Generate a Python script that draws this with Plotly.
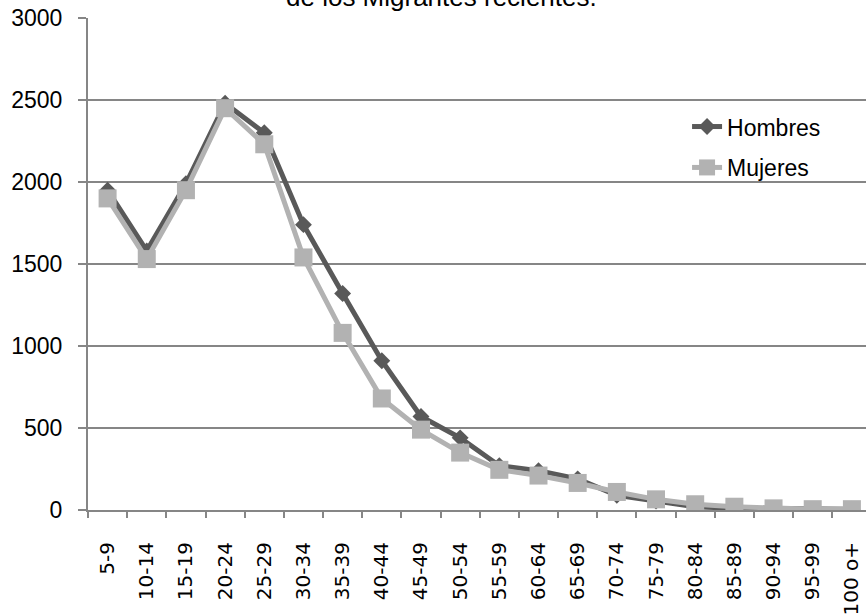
import plotly.graph_objects as go

# Age groups of recent migrants
grupos = ["5-9", "10-14", "15-19", "20-24", "25-29", "30-34", "35-39", "40-44",
          "45-49", "50-54", "55-59", "60-64", "65-69", "70-74", "75-79", "80-84",
          "85-89", "90-94", "95-99", "100 o+"]

hombres = [1950, 1580, 1990, 2480, 2300, 1740, 1320, 910, 570, 440,
           270, 240, 190, 90, 55, 20, 10, 8, 3, 5]
mujeres = [1900, 1530, 1950, 2450, 2230, 1540, 1080, 680, 490, 350,
           245, 210, 165, 110, 65, 35, 20, 10, 5, 5]

titulo = "de los Migrantes recientes."
y_ticks = [0, 500, 1000, 1500, 2000, 2500, 3000]

color_h = "#595959"
color_m = "#b2b2b2"
grid = "#868686"
font_main = "Liberation Sans"

fig = go.Figure()
fig.add_trace(go.Scatter(
    x=grupos, y=hombres, name="Hombres", mode="lines+markers",
    legendgroup="h",
    line=dict(color=color_h, width=5),
    marker=dict(symbol="diamond", size=13, color=color_h),
))
fig.add_trace(go.Scatter(
    x=grupos, y=mujeres, name="Mujeres", mode="lines+markers",
    legendgroup="m",
    line=dict(color=color_m, width=5),
    marker=dict(symbol="square", size=18, color=color_m),
))

fig.update_layout(
    width=866, height=616,
    margin=dict(l=88, r=0, t=18, b=106, pad=0),
    paper_bgcolor="white", plot_bgcolor="white",
    font=dict(family=font_main, size=23, color="black"),
    showlegend=True,
    legend=dict(
        x=0.77, y=0.823, xanchor="left", yanchor="top",
        bgcolor="rgba(0,0,0,0)", font=dict(family=font_main, size=23),
        tracegroupgap=8,
    ),
    annotations=[dict(
        text=titulo, x=0.455, y=1, xref="paper", yref="paper",
        xanchor="center", yanchor="middle", yshift=21, showarrow=False,
        font=dict(family=font_main, size=26, color="black"),
    )],
)

fig.update_xaxes(
    type="category", range=[-0.5, 19.36],
    showgrid=False, showline=True, linecolor=grid, linewidth=2,
    ticks="outside", tickson="boundaries", ticklen=6, tickcolor=grid, tickwidth=2,
    tickangle=-90, tickfont=dict(family="DejaVu Sans", size=20, color="black"),
    ticklabelstandoff=22,
)
fig.update_yaxes(
    range=[0, 3000], tickvals=y_ticks,
    showgrid=True, gridcolor=grid, gridwidth=2,
    zeroline=False,
    showline=True, linecolor=grid, linewidth=2,
    ticks="outside", ticklen=8, tickcolor=grid, tickwidth=2,
    tickfont=dict(family=font_main, size=23, color="black"),
    ticklabelstandoff=11,
)

fig.write_html("out.html")
